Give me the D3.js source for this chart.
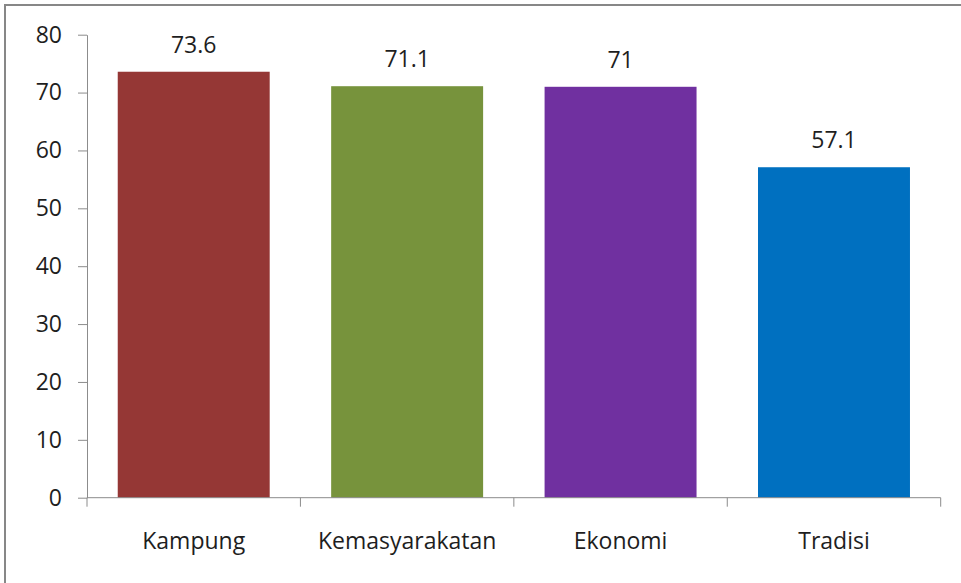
<!DOCTYPE html>
<html>
<head>
<meta charset="utf-8">
<script src="https://cdn.jsdelivr.net/npm/d3@7"></script>
<style>
html,body{margin:0;padding:0;background:#fff;}
svg{display:block;}
text{font-family:"Open Sans",sans-serif;fill:#1e1e1e;}
</style>
</head>
<body>
<svg id="chart" width="961" height="583"></svg>
<script>
const categories = ["Kampung", "Kemasyarakatan", "Ekonomi", "Tradisi"];
const values = [73.6, 71.1, 71, 57.1];
const valueLabels = ["73.6", "71.1", "71", "57.1"];
const colors = ["#953735", "#77933C", "#7030A0", "#0070C0"];
const yTicks = [0, 10, 20, 30, 40, 50, 60, 70, 80];

(function () {
const svg = d3.select("#chart");
const W = 961, H = 583;
const mLeft = 87, mRight = 940.7, mTop = 34.7, mBottom = 497.7;
const axisColor = "#8c8c8c";
const fontSize = 23;

// outer frame (top and left edges visible)
svg.append("rect")
  .attr("x", 5).attr("y", 5)
  .attr("width", W + 20).attr("height", H + 20)
  .attr("fill", "none").attr("stroke", "#878787").attr("stroke-width", 2);

const x = d3.scaleBand().domain(categories).range([mLeft, mRight])
  .paddingInner(0.288).paddingOuter(0.144);
const y = d3.scaleLinear().domain([0, 80]).range([mBottom, mTop]);

// bars
svg.append("g").selectAll("rect").data(categories).join("rect")
  .attr("x", d => x(d))
  .attr("width", x.bandwidth())
  .attr("y", (d, i) => y(values[i]))
  .attr("height", (d, i) => y(0) - y(values[i]))
  .attr("fill", (d, i) => colors[i]);

// value labels
svg.append("g").selectAll("text").data(categories).join("text")
  .attr("x", d => x(d) + x.bandwidth() / 2)
  .attr("y", (d, i) => y(values[i]) - 19)
  .attr("text-anchor", "middle")
  .style("font-size", fontSize + "px")
  .text((d, i) => valueLabels[i]);

// y axis
const yAxis = svg.append("g").attr("transform", `translate(${mLeft},0)`)
  .call(d3.axisLeft(y).tickValues(yTicks).tickSize(9).tickPadding(16).tickSizeOuter(0));
yAxis.select(".domain").attr("stroke", axisColor);
yAxis.selectAll(".tick line").attr("stroke", axisColor);
yAxis.selectAll("text").style("font-size", fontSize + "px")
  .style("font-family", '"Open Sans",sans-serif').attr("fill", "#1e1e1e");

// x axis line and boundary ticks
const xg = svg.append("g");
xg.append("line").attr("x1", mLeft).attr("x2", mRight)
  .attr("y1", y(0)).attr("y2", y(0)).attr("stroke", axisColor);
const boundaries = d3.range(categories.length + 1).map(i => x.range()[0] + i * x.step());
xg.selectAll("line.b").data(boundaries).join("line").attr("class", "b")
  .attr("x1", d => d).attr("x2", d => d)
  .attr("y1", y(0)).attr("y2", y(0) + 9)
  .attr("stroke", axisColor);

// category labels
xg.selectAll("text").data(categories).join("text")
  .attr("x", d => x(d) + x.bandwidth() / 2)
  .attr("y", y(0) + 51.6)
  .attr("text-anchor", "middle")
  .style("font-size", fontSize + "px")
  .text(d => d);
})();
</script>
</body>
</html>
